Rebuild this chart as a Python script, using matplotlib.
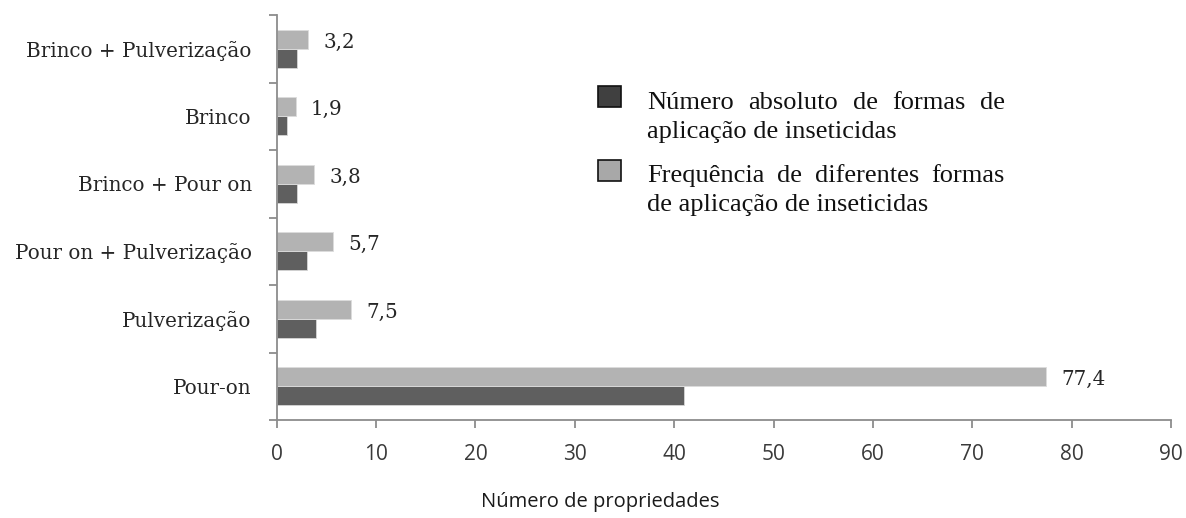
import matplotlib
matplotlib.use("Agg")
import matplotlib.pyplot as plt
import numpy as np

# Formas de aplicação (de baixo para cima no eixo)
categorias = ["Pour-on", "Pulverização", "Pour on + Pulverização",
              "Brinco + Pour on", "Brinco", "Brinco + Pulverização"]
numero_absoluto = [41, 4, 3, 2, 1, 2]
frequencia = [77.4, 7.5, 5.7, 3.8, 1.9, 3.2]
rotulos_freq = ["77,4", "7,5", "5,7", "3,8", "1,9", "3,2"]
ticks_x = [0, 10, 20, 30, 40, 50, 60, 70, 80, 90]

cor_escura = "#5f5f5f"
cor_clara = "#b3b3b3"
cor_eixo = "#8c8c8c"
cor_texto = "#262626"
serif_slab = "DejaVu Serif"
serif_leg = "Liberation Serif"
sans = "Open Sans"

W, H = 1186, 518
fig = plt.figure(figsize=(W / 100, H / 100), dpi=100)
ax = fig.add_axes([276.7 / W, 1 - 420 / H, (1171 - 276.7) / W, (420 - 15) / H])

y = np.arange(len(categorias))
h = 0.28
ax.barh(y - h / 2, numero_absoluto, height=h, color=cor_escura,
        edgecolor="#d6d6d6", linewidth=0.6)
ax.barh(y + h / 2, frequencia, height=h, color=cor_clara,
        edgecolor="#dcdcdc", linewidth=0.6)

for yi, v, txt in zip(y, frequencia, rotulos_freq):
    ax.annotate(txt, xy=(v, yi + h / 2), xytext=(11, -2),
                textcoords="offset points", ha="left", va="center",
                fontsize=14.3, family=serif_slab, color=cor_texto)

ax.set_xlim(0, 90)
ax.set_ylim(-0.5, len(categorias) - 0.5)

for s in ["top", "right"]:
    ax.spines[s].set_visible(False)
for s in ["left", "bottom"]:
    ax.spines[s].set_color(cor_eixo)
    ax.spines[s].set_linewidth(1.3)

ax.set_xticks(ticks_x)
ax.set_xticklabels([str(t) for t in ticks_x], family=sans, fontsize=15,
                   color="#3a3a3a")
ax.tick_params(axis="x", direction="out", length=5.8, width=1.3,
               color=cor_eixo, pad=11.5)

ax.set_yticks(y)
ax.set_yticklabels(categorias, family=serif_slab, fontsize=14.3,
                   color=cor_texto)
ax.tick_params(axis="y", which="major", length=0, pad=18)
ax.set_yticks(np.arange(-0.5, len(categorias), 1.0), minor=True)
ax.tick_params(axis="y", which="minor", direction="out", length=6,
               width=1.3, color=cor_eixo)

fig.text(600 / W, 1 - 502 / H, "Número de propriedades", family=sans,
         fontsize=14.5, color="#1a1a1a", ha="center", va="center")

# Legenda com texto justificado
renderer = fig.canvas.get_renderer()
TAM_LEG = 19


def linha(texto, x0, x1, yb, justificar):
    if not justificar:
        fig.text(x0 / W, 1 - yb / H, texto, family=serif_leg,
                 fontsize=TAM_LEG, color="#111111", ha="left", va="baseline")
        return
    palavras = texto.split(" ")
    objs = [fig.text(0, 1 - yb / H, p, family=serif_leg, fontsize=TAM_LEG,
                     color="#111111", ha="left", va="baseline")
            for p in palavras]
    larguras = [o.get_window_extent(renderer).width for o in objs]
    gap = (x1 - x0 - sum(larguras)) / (len(palavras) - 1)
    x = x0
    for o, w in zip(objs, larguras):
        o.set_x(x / W)
        x += w + gap


legenda = [
    ("#404040", ["Número absoluto de formas de",
                 "aplicação de inseticidas"], 86, 109),
    ("#a8a8a8", ["Frequência de diferentes formas",
                 "de aplicação de inseticidas"], 160, 182),
]
for cor_q, linhas, ytop, yb in legenda:
    fig.patches.append(plt.Rectangle((598 / W, 1 - (ytop + 21) / H),
                                     23 / W, 21 / H, transform=fig.transFigure,
                                     facecolor=cor_q, edgecolor="#111111",
                                     linewidth=1.2))
    linha(linhas[0], 647, 1005, yb, True)
    linha(linhas[1], 647, 1005, yb + 29, False)

fig.savefig("out.png", dpi=100)
